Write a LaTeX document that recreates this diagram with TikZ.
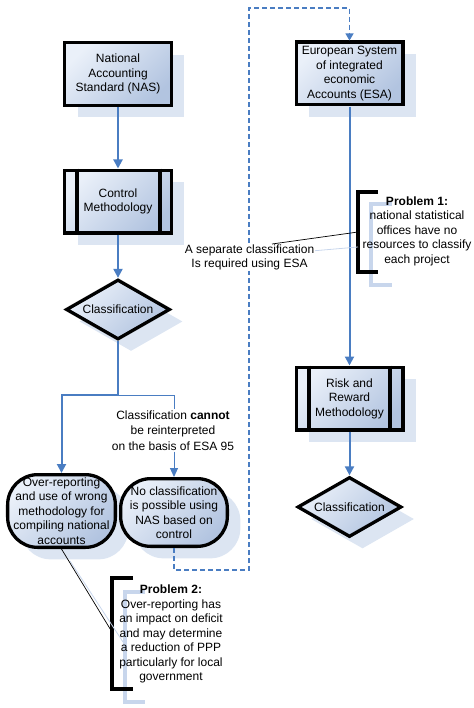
\documentclass[tikz,border=0pt]{standalone}
\usepackage{fontspec}
\setmainfont{Liberation Sans}
\usetikzlibrary{shapes.geometric,arrows.meta,shadows}
\definecolor{lnblue}{HTML}{4A7DC2}
\definecolor{shlight}{HTML}{EAF0F9}
\definecolor{shdark}{HTML}{B2C4E0}
\definecolor{shadowc}{HTML}{DCE5F2}
\definecolor{shadowline}{HTML}{C8D6EC}
\begin{document}
\begin{tikzpicture}[x=1bp,y=-1bp,
  every node/.style={font=\fontsize{12bp}{14.5bp}\selectfont, align=center},
  flowfill/.style={top color=shlight, bottom color=shdark, shading angle=45,
    drop shadow={shadow xshift=13bp, shadow yshift=-12bp, fill=shadowc, opacity=1}},
  procbox/.style={flowfill, draw=black, line width=3.3bp, rectangle,
    minimum width=106.7bp, minimum height=62.7bp, inner sep=0pt},
  decision/.style={flowfill, draw=black, line width=3.3bp, diamond, aspect=1.7,
    minimum width=104bp, minimum height=60bp, inner sep=0pt},
  roundbox/.style={flowfill, draw=black, line width=3.3bp, rectangle, rounded corners=30bp,
    inner sep=0pt},
  barline/.style={black, line width=4bp},
  conn/.style={draw=lnblue, line width=2bp, -{Triangle[width=9bp,length=9bp]}},
  thinline/.style={draw=lnblue, line width=1bp},
  thinarrow/.style={draw=lnblue, line width=1bp, -{Triangle[width=8bp,length=9bp]}},
  dashconn/.style={draw=lnblue, line width=1.1bp, dash pattern=on 5bp off 3bp,
    -{Triangle[width=8bp,length=7bp]}},
  bracket/.style={black, line width=3.5bp},
  bracketshadow/.style={shadowline, line width=3.3bp},
  callout/.style={black, line width=0.7bp},
  calloutshadow/.style={shadowline, line width=0.8bp},
  plain/.style={inner sep=1bp}
]
\useasboundingbox (0,0) rectangle (474,708);

% shapes
\node[procbox] (nas) at (118,74) {National\\Accounting\\Standard (NAS)};
\node[procbox] (ctrl) at (118,201.5) {Control\\Methodology};
\draw[barline] ([xshift=13.5bp]ctrl.north west) -- ([xshift=13.5bp]ctrl.south west);
\draw[barline] ([xshift=-13.5bp]ctrl.north east) -- ([xshift=-13.5bp]ctrl.south east);
\node[decision] (dec1) at (118,309.5) {Classification};
\node[roundbox, minimum width=107.7bp, minimum height=72.7bp] (over) at (61.5,511)
  {Over-reporting\\and use of wrong\\methodology for\\compiling national\\accounts};
\node[roundbox, minimum width=106.7bp, minimum height=67.7bp] (noclass) at (174,512.5)
  {No classification\\is possible using\\NAS based on\\control};
\node[procbox] (esa) at (349.5,73.5) {European System\\of integrated\\economic\\Accounts (ESA)};
\node[procbox] (risk) at (349.5,398.5) {Risk and\\Reward\\Methodology};
\draw[barline] ([xshift=14.5bp]risk.north west) -- ([xshift=14.5bp]risk.south west);
\draw[barline] ([xshift=-14.5bp]risk.north east) -- ([xshift=-14.5bp]risk.south east);
\node[decision] (dec2) at (349.5,507) {Classification};

% label for the right branch
\node[plain, font=\fontsize{12bp}{15.5bp}\selectfont] (cannot) at (173,430.5)
  {Classification \textbf{cannot}\\be reinterpreted\\on the basis of ESA 95};

% connectors
\coordinate (j) at (118,395);
\coordinate (d1) at (249,570);
\coordinate (d2) at (249,8);
\draw[conn] (nas.south) -- (ctrl.north);
\draw[conn] (ctrl.south) -- (dec1.north);
\draw[conn] (dec1.south) -- (j) -| (over.north);
\draw[thinline] (j) -| (noclass.north |- cannot.north);
\draw[thinarrow] (noclass.north |- cannot.south) -- (noclass.north);
\draw[dashconn] (noclass.south) |- (d1) -- (d2) -| (esa.north);
\draw[conn] (esa.south) -- (risk.north);
\draw[conn] (risk.south) -- (dec2.north);

% problem 1
\draw[bracketshadow] (392,204) -- (371,204) -- (371,285) -- (392,285);
\draw[bracket] (378,192) -- (358,192) -- (358,272) -- (378,272);
\coordinate (b1) at (358,232);
\coordinate (c1) at (272,244);
\draw[calloutshadow] (358,247) -- (300,252);
\node[plain, fill=white] (sep) at (249.5,257.5) {A separate classification\\Is required using ESA};
\draw[callout] (b1) -- (c1);
\node[plain] (p1) at (417,231) {\textbf{Problem 1:}\\national statistical\\offices have no\\resources to classify\\each project};

% problem 2
\draw[bracketshadow] (145,592) -- (125,592) -- (125,702) -- (145,702);
\draw[bracket] (133,578) -- (112,578) -- (112,689) -- (133,689);
\coordinate (b2) at (112,632);
\draw[calloutshadow] (70,561) -- (125,645);
\draw[callout] (over.south) -- (b2);
\node[plain] (p2) at (171,634) {\textbf{Problem 2:}\\Over-reporting has\\an impact on deficit\\and may determine\\a reduction of PPP\\particularly for local\\government};
\end{tikzpicture}
\end{document}
